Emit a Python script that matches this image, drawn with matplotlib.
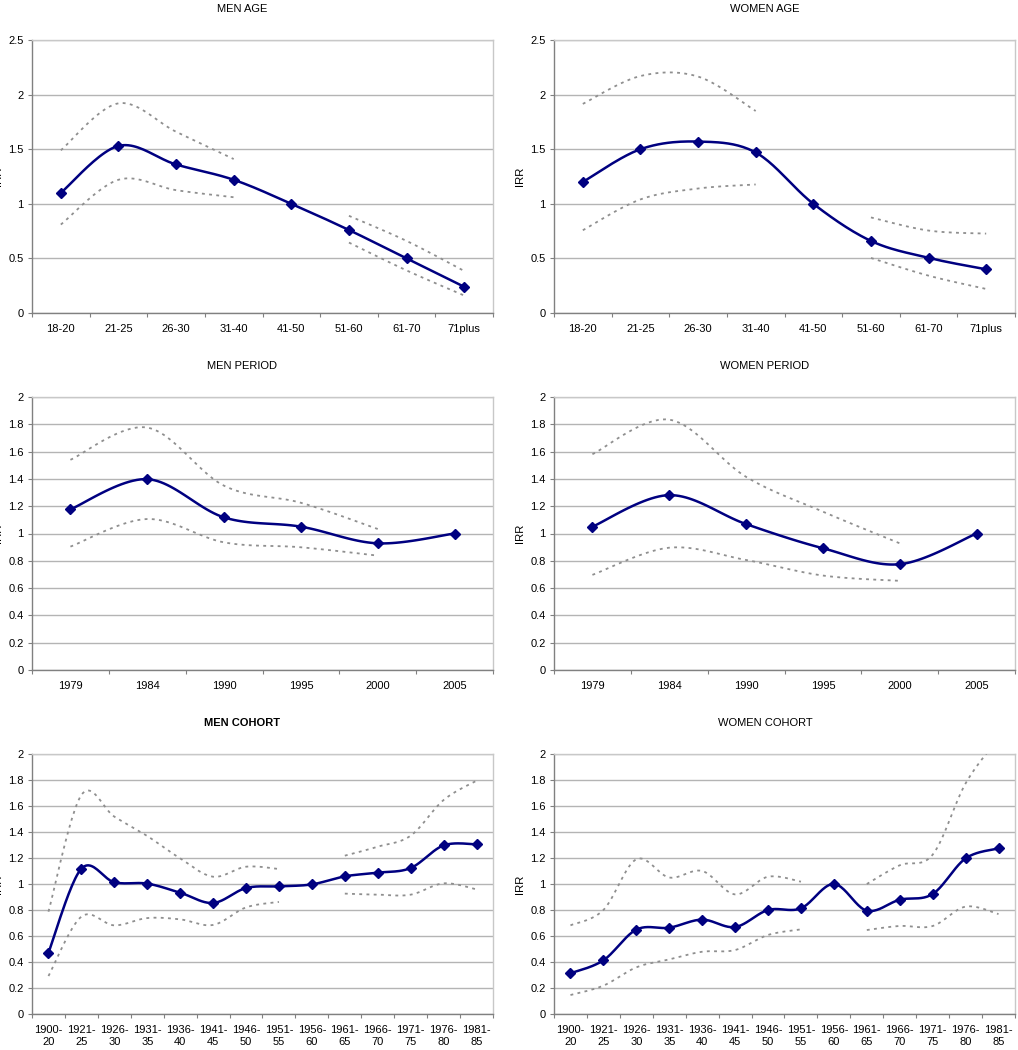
import numpy as np
import matplotlib
matplotlib.use("Agg")
import matplotlib.pyplot as plt

plt.rcParams['font.family'] = ['Liberation Sans', 'DejaVu Sans']

# ---------------- data ----------------
age_cats = ["18-20", "21-25", "26-30", "31-40", "41-50", "51-60", "61-70", "71plus"]
men_age = [1.10, 1.53, 1.36, 1.22, 1.00, 0.76, 0.50, 0.24]
men_age_hi = [1.49, 1.92, 1.66, 1.41, None, 0.89, 0.66, 0.385]
men_age_lo = [0.81, 1.22, 1.125, 1.06, None, 0.645, 0.39, 0.16]
women_age = [1.20, 1.50, 1.57, 1.47, 1.00, 0.66, 0.505, 0.40]
women_age_hi = [1.915, 2.17, 2.165, 1.85, None, 0.875, 0.755, 0.727]
women_age_lo = [0.758, 1.04, 1.14, 1.177, None, 0.504, 0.342, 0.22]

period_cats = ["1979", "1984", "1990", "1995", "2000", "2005"]
men_period = [1.177, 1.398, 1.118, 1.05, 0.928, 1.00]
men_period_hi = [1.54, 1.776, 1.35, 1.225, 1.033, None]
men_period_lo = [0.904, 1.106, 0.935, 0.899, 0.838, None]
women_period = [1.05, 1.281, 1.069, 0.892, 0.775, 1.00]
women_period_hi = [1.581, 1.834, 1.415, 1.16, 0.928, None]
women_period_lo = [0.697, 0.896, 0.806, 0.692, 0.653, None]

cohort_cats = ["1900-\n20", "1921-\n25", "1926-\n30", "1931-\n35", "1936-\n40", "1941-\n45",
               "1946-\n50", "1951-\n55", "1956-\n60", "1961-\n65", "1966-\n70", "1971-\n75",
               "1976-\n80", "1981-\n85"]
men_cohort = [0.472, 1.118, 1.013, 1.003, 0.933, 0.854, 0.969, 0.982, 0.997, 1.059, 1.087,
              1.123, 1.297, 1.305]
men_cohort_hi = [0.787, 1.685, 1.518, 1.369, 1.197, 1.056, 1.133, 1.115, None, 1.218, 1.287,
                 1.372, 1.646, 1.795]
men_cohort_lo = [0.292, 0.749, 0.682, 0.738, 0.728, 0.685, 0.82, 0.862, None, 0.926, 0.918,
                 0.918, 1.005, 0.959]
women_cohort = [0.313, 0.413, 0.649, 0.664, 0.726, 0.669, 0.80, 0.813, 1.00, 0.795, 0.879,
                0.923, 1.197, 1.274]
women_cohort_hi = [0.682, 0.80, 1.19, 1.05, 1.10, 0.92, 1.056, 1.018, None, 1.00, 1.144,
                   1.226, 1.774, 2.12]
women_cohort_lo = [0.146, 0.218, 0.359, 0.42, 0.479, 0.492, 0.608, 0.651, None, 0.646, 0.677,
                   0.677, 0.826, 0.769]

NAVY = '#000080'
CI_COL = '#8f8f8f'


def smooth(xs, ys, n=24):
    """Catmull-Rom (Excel-like smoothed line) through given points."""
    xs = np.asarray(xs, float)
    ys = np.asarray(ys, float)
    if len(xs) < 2:
        return xs, ys
    P = np.column_stack([xs, ys])
    out = [P[0]]
    for i in range(len(P) - 1):
        p0 = P[i - 1] if i > 0 else P[i]
        p1 = P[i]
        p2 = P[i + 1]
        p3 = P[i + 2] if i + 2 < len(P) else P[i + 1]
        c1 = p1 + (p2 - p0) / 6.0
        c2 = p2 - (p3 - p1) / 6.0
        t = np.linspace(0, 1, n)[1:, None]
        seg = ((1 - t) ** 3) * p1 + 3 * ((1 - t) ** 2) * t * c1 + 3 * (1 - t) * t ** 2 * c2 + t ** 3 * p2
        out.extend(seg)
    out = np.array(out)
    return out[:, 0], out[:, 1]


def runs(vals):
    res, cur = [], []
    for i, v in enumerate(vals):
        if v is None:
            if cur:
                res.append(cur)
            cur = []
        else:
            cur.append(i)
    if cur:
        res.append(cur)
    return res


W, H = 1018, 1050
fig = plt.figure(figsize=(W / 100, H / 100), dpi=100)


def make_panel(px_left, px_right, px_top, px_bottom, cats, main, hi, lo, ymax, ystep,
               title, title_x, title_y, bold=False):
    ax = fig.add_axes([px_left / W, 1 - px_bottom / H, (px_right - px_left) / W,
                       (px_bottom - px_top) / H])
    n = len(cats)
    x = np.arange(n)
    for series in (hi, lo):
        for r in runs(series):
            sx, sy = smooth([x[i] for i in r], [series[i] for i in r])
            ax.plot(sx, sy, color=CI_COL, lw=1.3, linestyle=(0, (1.6, 2.4)),
                    dash_capstyle='butt', zorder=3)
    sx, sy = smooth(x, main)
    ax.plot(sx, sy, color=NAVY, lw=1.8, zorder=4)
    ax.plot(x, main, linestyle='none', marker='D', ms=4.8, color=NAVY, zorder=5)

    ax.set_xlim(-0.5, n - 0.5)
    ax.set_ylim(0, ymax)
    yt = np.round(np.arange(0, ymax + 1e-9, ystep), 2)
    ax.set_yticks(yt)
    ax.set_yticklabels(['%g' % v for v in yt])
    ax.yaxis.grid(True, color='#b4b4b4', lw=1.0, zorder=0)
    ax.set_axisbelow(True)

    ax.set_xticks(np.arange(n + 1) - 0.5)
    ax.set_xticklabels([])
    ax.set_xticks(x, minor=True)
    ax.set_xticklabels(cats, minor=True, linespacing=1.2)
    ax.tick_params(axis='x', which='major', length=3, color='#808080', direction='out')
    ax.tick_params(axis='x', which='minor', length=0, pad=8, labelsize=8)
    ax.tick_params(axis='y', length=3, color='#808080', pad=3, labelsize=8)

    for s in ('left', 'bottom'):
        ax.spines[s].set_color('#808080')
        ax.spines[s].set_linewidth(1.0)
    for s in ('top', 'right'):
        ax.spines[s].set_color('#c8c8c8')
        ax.spines[s].set_linewidth(1.0)

    ax.set_ylabel('IRR', fontsize=8.2, labelpad=4)
    fig.text(title_x / W, 1 - title_y / H, title, ha='center', va='center', fontsize=8,
             fontweight='bold' if bold else 'normal')
    return ax


make_panel(32, 493, 40, 313, age_cats, men_age, men_age_hi, men_age_lo, 2.5, 0.5,
           'MEN AGE', 242, 9)
make_panel(554, 1015, 40, 313, age_cats, women_age, women_age_hi, women_age_lo, 2.5, 0.5,
           'WOMEN AGE', 765, 9)
make_panel(32, 493, 397, 670, period_cats, men_period, men_period_hi, men_period_lo, 2, 0.2,
           'MEN PERIOD', 242, 366)
make_panel(554, 1015, 397, 670, period_cats, women_period, women_period_hi, women_period_lo,
           2, 0.2, 'WOMEN PERIOD', 765, 366)
make_panel(32, 493, 754, 1014, cohort_cats, men_cohort, men_cohort_hi, men_cohort_lo, 2, 0.2,
           'MEN COHORT', 242, 723, bold=True)
make_panel(554, 1015, 754, 1014, cohort_cats, women_cohort, women_cohort_hi, women_cohort_lo,
           2, 0.2, 'WOMEN COHORT', 765, 723)

fig.savefig('out.png', dpi=100)
